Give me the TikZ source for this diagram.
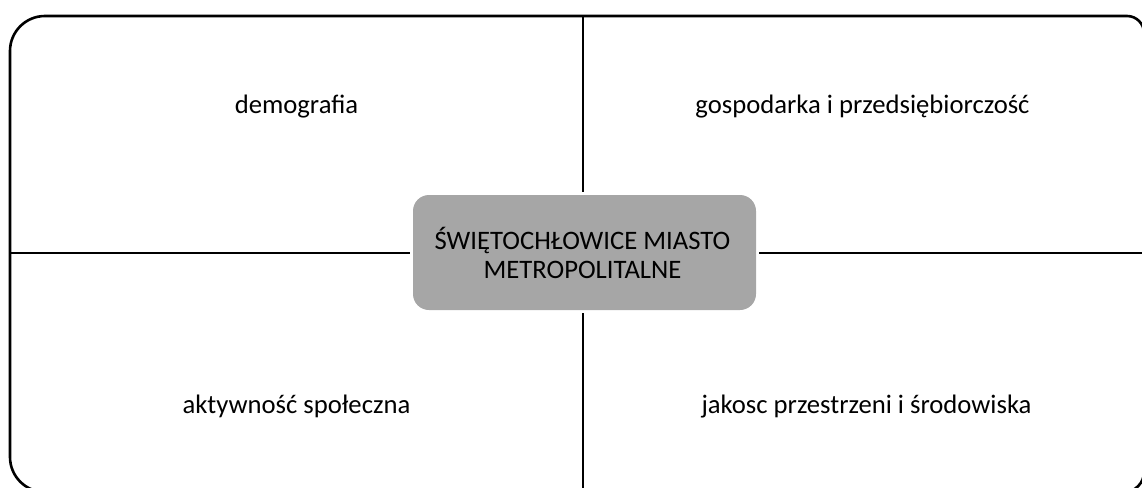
\documentclass[tikz,border=0pt]{standalone}
\usepackage{fontspec}
\setmainfont{Carlito}
\definecolor{boxgray}{RGB}{166,166,166}
\begin{document}
\begin{tikzpicture}[x=1pt,y=-1pt,
  frame/.style={line width=2.6pt, black},
  divider/.style={line width=2.6pt, black, shorten >=3pt},
  centerbox/.style={fill=boxgray, draw=none, rounded corners=16pt,
    minimum width=343pt, minimum height=115pt},
  ctext/.style={align=center, font=\fontsize{26.67}{29}\selectfont, inner sep=0pt},
  lbl/.style={font=\fontsize{26.67}{32}\selectfont, anchor=base, inner sep=0pt}]
\useasboundingbox (0,0) rectangle (1142,487);
\clip (0,0) rectangle (1142,487);
% outer frame
\draw[frame] (10,51) arc[start angle=180, end angle=270, radius=35]
  -- (1127,16) arc[start angle=270, end angle=360, radius=17]
  -- (1144,472) arc[start angle=0, end angle=90, radius=20]
  -- (45,492) arc[start angle=90, end angle=180, radius=35] -- cycle;
% line ends on the frame
\coordinate (top) at (583,16);
\coordinate (bot) at (583,492);
\coordinate (lft) at (10,253);
\coordinate (rgt) at (1144,253);
% centre box
\node[centerbox] (c) at (584.5,252.5) {};
\node[ctext] (ct) at (582.5,253) {ŚWIĘTOCHŁOWICE MIASTO\\METROPOLITALNE};
% dividers
\draw[divider] (top) -- (top |- c.north);
\draw[divider] (bot) -- (bot |- c.south);
\draw[divider] (lft) -- (c.west |- lft);
\draw[divider] (rgt) -- (c.east |- rgt);
% labels
\node[lbl] (demo) at (296.5,113) {demografia};
\node[lbl] (gosp) at (862.5,113) {gospodarka i przedsiębiorczość};
\node[lbl] (akty) at (296.5,413) {aktywność społeczna};
\node[lbl] (jako) at (866.5,413) {jakosc przestrzeni i środowiska};
\end{tikzpicture}
\end{document}
